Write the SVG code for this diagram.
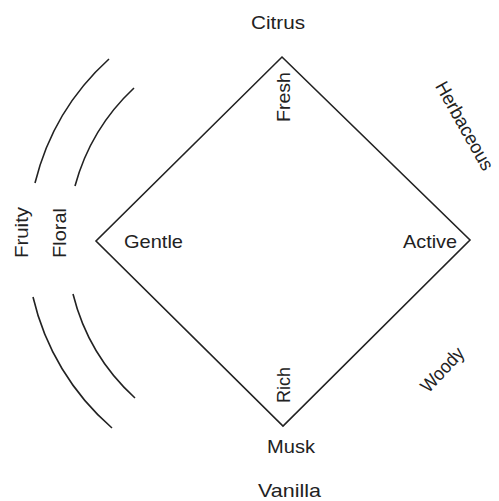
<svg xmlns="http://www.w3.org/2000/svg" width="499" height="501" viewBox="0 0 499 501">
<style>
.ln{fill:none;stroke:#222;stroke-width:1.6;stroke-linejoin:miter}
.t{font-family:"Liberation Sans",Arial,sans-serif;font-size:19px;fill:#222}
</style>
<rect width="499" height="501" fill="#fff"/>
<g id="connectors">
<polygon class="ln" points="282,57 470,240 283,426 96,241"/>
</g>
<g id="arcs">
<path class="ln" d="M109,59 A247,247 0 0 0 35,183"/>
<path class="ln" d="M134,88 A209,209 0 0 0 75,186"/>
<path class="ln" d="M33,297 A247,247 0 0 0 112,428"/>
<path class="ln" d="M73,294 A209,209 0 0 0 135,398"/>
</g>
<g id="citrus"><text class="t" x="251" y="29" textLength="54" lengthAdjust="spacingAndGlyphs">Citrus</text></g>
<g id="gentle"><text class="t" x="124" y="248" textLength="59" lengthAdjust="spacingAndGlyphs">Gentle</text></g>
<g id="active"><text class="t" x="403" y="248" textLength="54" lengthAdjust="spacingAndGlyphs">Active</text></g>
<g id="musk"><text class="t" x="267" y="453" textLength="48" lengthAdjust="spacingAndGlyphs">Musk</text></g>
<g id="vanilla"><text class="t" x="258" y="497" textLength="63" lengthAdjust="spacingAndGlyphs">Vanilla</text></g>
<g id="fresh"><text class="t" transform="translate(290,122) rotate(-90)" textLength="50" lengthAdjust="spacingAndGlyphs">Fresh</text></g>
<g id="rich"><text class="t" transform="translate(290,403) rotate(-90)" textLength="36" lengthAdjust="spacingAndGlyphs">Rich</text></g>
<g id="fruity"><text class="t" transform="translate(28,258) rotate(-90)" textLength="51" lengthAdjust="spacingAndGlyphs">Fruity</text></g>
<g id="floral"><text class="t" transform="translate(66,258) rotate(-90)" textLength="50" lengthAdjust="spacingAndGlyphs">Floral</text></g>
<g id="herbaceous"><text class="t" text-anchor="middle" transform="translate(459,129) rotate(60.5)" textLength="99" lengthAdjust="spacingAndGlyphs">Herbaceous</text></g>
<g id="woody"><text class="t" text-anchor="middle" transform="translate(447,374) rotate(-47)" textLength="54" lengthAdjust="spacingAndGlyphs">Woody</text></g>
</svg>
